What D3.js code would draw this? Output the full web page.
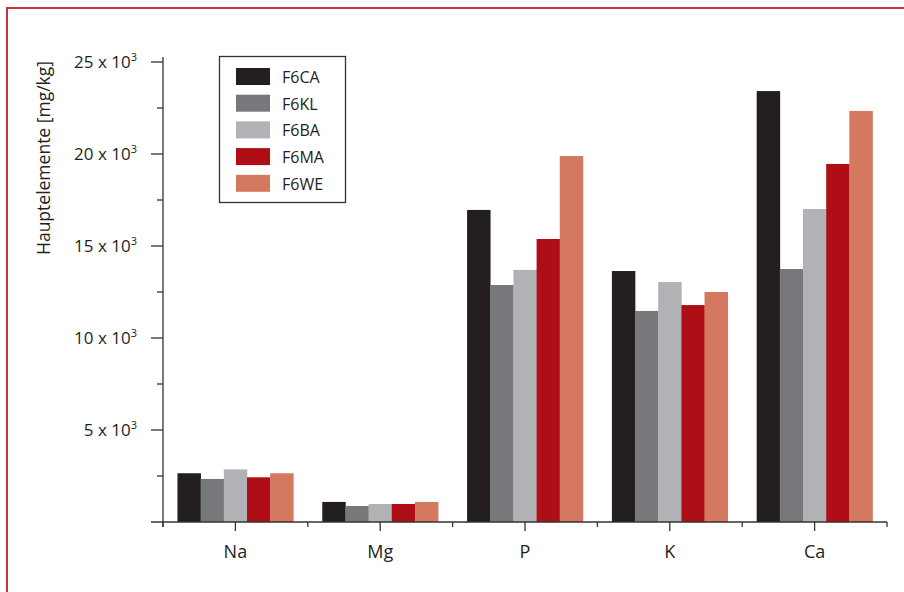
<!DOCTYPE html>
<html><head><meta charset="utf-8">
<script src="https://cdn.jsdelivr.net/npm/d3@7"></script>
<style>
html,body{margin:0;padding:0;background:#fff;}
svg{display:block;font-family:"Open Sans","Noto Sans",sans-serif;}
</style></head>
<body>
<script>
const categories = ["Na", "Mg", "P", "K", "Ca"];
const seriesNames = ["F6CA", "F6KL", "F6BA", "F6MA", "F6WE"];
const seriesColors = ["#231f20", "#77787b", "#b1b2b5", "#b00e16", "#d4795f"];
const F6CA = [2650, 1090, 16960, 13640, 23420];
const F6KL = [2340, 870, 12880, 11470, 13750];
const F6BA = [2860, 980, 13700, 13040, 17010];
const F6MA = [2430, 980, 15380, 11790, 19460];
const F6WE = [2650, 1090, 19890, 12500, 22340];
const seriesValues = [F6CA, F6KL, F6BA, F6MA, F6WE];
const yTicks = [5000, 10000, 15000, 20000, 25000];
const yMinorTicks = [2500, 7500, 12500, 17500, 22500];
const yLabel = "Hauptelemente [mg/kg]";

const W = 904, H = 592;
const svg = d3.select("body").append("svg").attr("width", W).attr("height", H);

// frame
svg.append("path").attr("d", "M7,600 L7,8 L910,8")
  .attr("fill", "none").attr("stroke", "#cc3340").attr("stroke-width", 2);

const x0 = 163, x1 = 887, yBase = 522;
const x = d3.scaleBand().domain(categories).range([x0, x1]).paddingInner(0.2).paddingOuter(0.1);
const xb = d3.scaleBand().domain(categories).range([x0, x1]);
const xs = d3.scaleBand().domain(seriesNames).range([0, x.bandwidth()]).padding(0);
const y = d3.scaleLinear().domain([0, 25000]).range([yBase, 62]);

// bars
const data = [];
categories.forEach((c, i) => seriesNames.forEach((s, j) => data.push({c, s, j, v: seriesValues[j][i]})));
svg.append("g").selectAll("rect").data(data).join("rect")
  .attr("x", d => x(d.c) + xs(d.s))
  .attr("width", xs.bandwidth() + 0.3)
  .attr("y", d => y(d.v))
  .attr("height", d => yBase - y(d.v))
  .attr("fill", d => seriesColors[d.j]);

const axisColor = "#333";
// y axis
const ya = svg.append("g");
ya.append("line").attr("x1", x0).attr("x2", x0).attr("y1", 57).attr("y2", yBase + 5)
  .attr("stroke", axisColor).attr("stroke-width", 1.3);
ya.selectAll(".maj").data(yTicks).join("line")
  .attr("x1", x0 - 12).attr("x2", x0).attr("y1", d => y(d)).attr("y2", d => y(d))
  .attr("stroke", axisColor).attr("stroke-width", 1.3);
ya.selectAll(".min").data(yMinorTicks).join("line")
  .attr("x1", x0 - 6).attr("x2", x0).attr("y1", d => y(d)).attr("y2", d => y(d))
  .attr("stroke", axisColor).attr("stroke-width", 1.3);
const tl = ya.selectAll(".lbl").data(yTicks).join("text")
  .attr("x", 137).attr("y", d => y(d) + 6)
  .attr("text-anchor", "end").attr("font-size", 17).attr("fill", "#231f20");
tl.append("tspan").text(d => (d / 1000) + " x 10");
tl.append("tspan").attr("dy", -7).attr("font-size", 11).text("3");

svg.append("text").attr("transform", "translate(50,158) rotate(-90)")
  .attr("text-anchor", "middle").attr("font-size", 17.5).attr("fill", "#231f20").text(yLabel);

// x axis
const xa = svg.append("g");
xa.append("line").attr("x1", x0 - 12).attr("x2", x1).attr("y1", yBase).attr("y2", yBase)
  .attr("stroke", axisColor).attr("stroke-width", 1.3);
const dividers = categories.map(c => xb(c)).concat([x1]);
xa.selectAll(".div").data(dividers).join("line")
  .attr("x1", d => d).attr("x2", d => d).attr("y1", yBase).attr("y2", yBase + 5)
  .attr("stroke", axisColor).attr("stroke-width", 1.3);
xa.selectAll(".ct").data(categories).join("line")
  .attr("x1", d => xb(d) + xb.bandwidth() / 2).attr("x2", d => xb(d) + xb.bandwidth() / 2)
  .attr("y1", yBase).attr("y2", yBase + 9)
  .attr("stroke", axisColor).attr("stroke-width", 1.3);
xa.selectAll(".xl").data(categories).join("text")
  .attr("x", d => xb(d) + xb.bandwidth() / 2).attr("y", 558)
  .attr("text-anchor", "middle").attr("font-size", 18).attr("fill", "#231f20").text(d => d);

// legend
const lg = svg.append("g");
lg.append("rect").attr("x", 219.5).attr("y", 56.5).attr("width", 126).attr("height", 146)
  .attr("fill", "#fff").attr("stroke", axisColor).attr("stroke-width", 1.3);
seriesNames.forEach((s, j) => {
  lg.append("rect").attr("x", 236).attr("y", 68 + j * 26.7).attr("width", 34).attr("height", 17)
    .attr("fill", seriesColors[j]);
  lg.append("text").attr("x", 282).attr("y", 83 + j * 26.7).attr("font-size", 16)
    .attr("fill", "#231f20").text(s);
});
</script>
</body></html>
